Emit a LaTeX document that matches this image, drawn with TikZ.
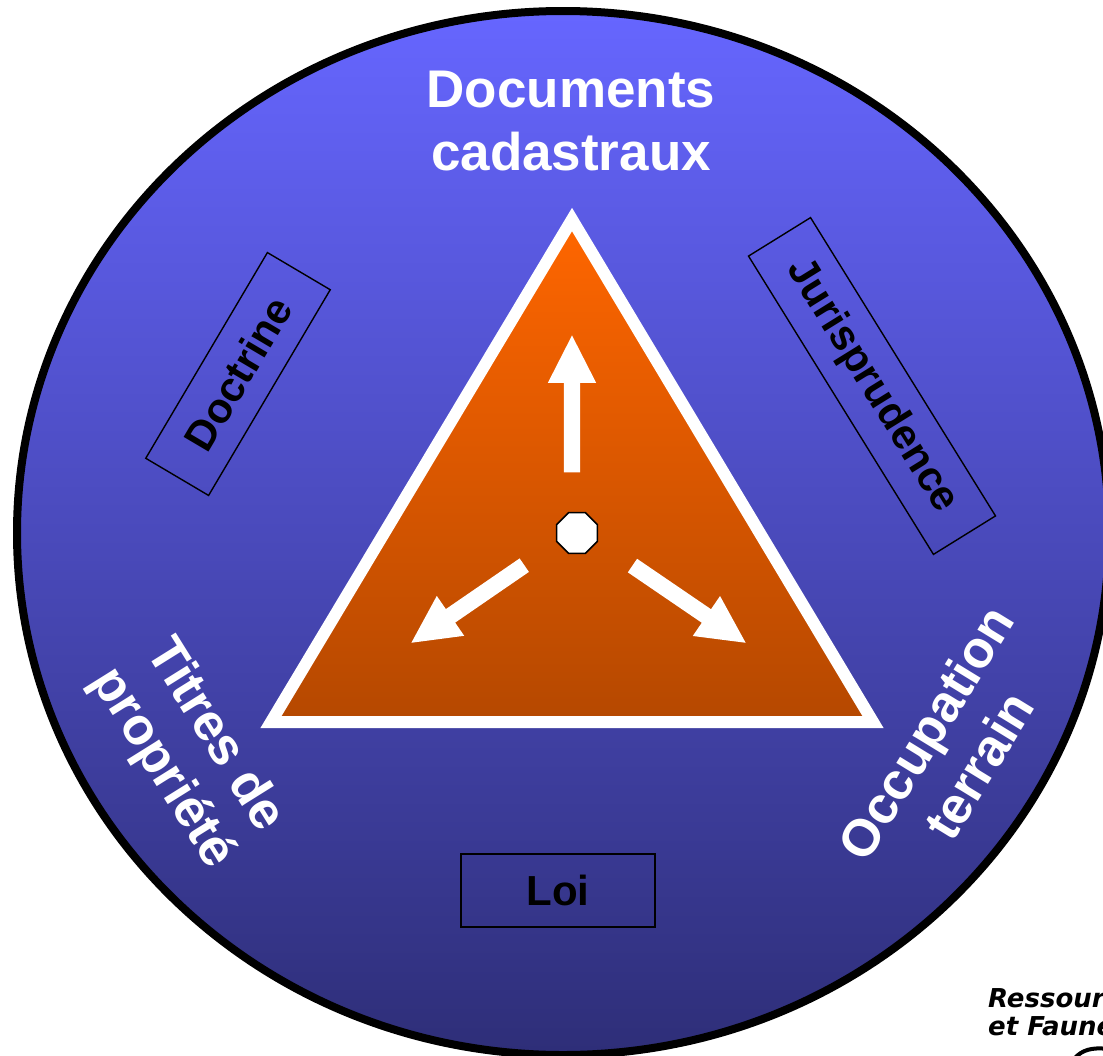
\documentclass[tikz,border=0pt]{standalone}
\usepackage{fontspec}
\setmainfont{Liberation Sans}
\newfontfamily\logofont{DejaVu Sans}
\usetikzlibrary{shapes,arrows,positioning}
\definecolor{disctop}{HTML}{6666FF}
\definecolor{discmiddle}{HTML}{5050C8}
\definecolor{discbottom}{HTML}{2E2E78}
\definecolor{tritop}{HTML}{FF6600}
\definecolor{trimiddle}{HTML}{E05A00}
\definecolor{tribottom}{HTML}{B54800}

\begin{document}
\begin{tikzpicture}[x=1pt, y=-1pt, align=center]
    \tikzset{
        title/.style    =   { text=white
                            , font=\fontsize{53}{63}\selectfont\bfseries
        }
        , side/.style   =   { text=white
                            , font=\fontsize{52}{62}\selectfont\bfseries
        }
        , box/.style    =   { rectangle
                            , draw=black
                            , line width=1.4pt
                            , inner sep=0pt
                            , minimum height=73pt
                            , font=\fontsize{42}{49}\selectfont\bfseries
        }
        , warrow/.style =   { single arrow
                            , fill=white
                            , inner sep=8pt
                            , minimum width=48pt
                            , minimum height=137pt
                            , single arrow head extend=16pt
                            , single arrow tip angle=54
                            , anchor=tip
        }
        , logo/.style   =   { anchor=base west
                            , inner sep=0pt
                            , font=\logofont\fontsize{26}{28}\selectfont\bfseries\itshape
        }
    }
    \useasboundingbox (0,0) rectangle (1103,1055);
    \clip (0,0) rectangle (1103,1055);

    \draw[line width=8pt, top color=disctop, middle color=discmiddle, bottom color=discbottom]
        (563,533) ellipse [x radius=546, y radius=522];

    \coordinate(a) at (572,219.5);
    \coordinate(b) at (271,722);
    \coordinate(c) at (873,722);
    \draw[draw=white, line width=12pt, top color=tritop, middle color=trimiddle, bottom color=tribottom]
        (a) -- (b) -- (c) -- cycle;

    \node(0)[regular polygon, regular polygon sides=8, draw=black, fill=white
        , line width=1.6pt, inner sep=0pt, minimum size=44pt] at (577,533) {};
    \node(1)[warrow, rotate=90]     at (572,335) {};
    \node(2)[warrow, rotate=214.5]  at (411,643) {};
    \node(3)[warrow, rotate=-34.3]  at (746,643) {};

    \node(4)[title] at (571,121) {Documents\\cadastraux};
    \node(5)[side, rotate=-58] at (188,752) {Titres de\\propriété};
    \node(6)[side, rotate=58.5] at (952,749) {Occupation\\terrain};

    \node(7)[box, minimum width=239pt, rotate=59.4] at (238,374) {Doctrine};
    \node(8)[box, minimum width=351pt, rotate=-58.2] at (872,386) {Jurisprudence};
    \node(9)[box, minimum width=194pt] at (558,890.5) {Loi};

    \node(10)[logo] at (988,1007) {Ressour};
    \node(11)[logo] at (988,1035) {et Faune};
    \draw[line width=4pt] (1075,1058) .. controls (1082,1050) and (1092,1047) .. (1108,1049);
\end{tikzpicture}
\end{document}
